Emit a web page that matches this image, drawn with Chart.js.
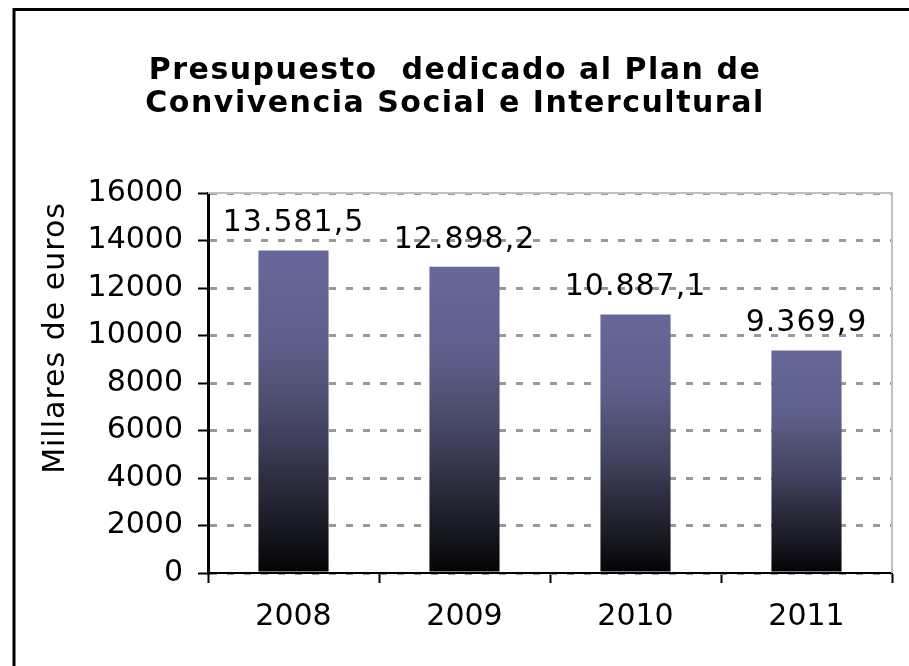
<!DOCTYPE html>
<html>
<head>
<meta charset="utf-8">
<script src="https://cdn.jsdelivr.net/npm/chart.js@4/dist/chart.umd.min.js"></script>
<style>
  html, body { margin: 0; padding: 0; background: #fff; }
  canvas { display: block; }
</style>
</head>
<body>
<canvas id="chart" width="909" height="666"></canvas>
<script>
// data
const years = ['2008', '2009', '2010', '2011'];
const budget = [13581.5, 12898.2, 10887.1, 9369.9];
const titleLines = ['Presupuesto  dedicado al Plan de', 'Convivencia Social e Intercultural'];
const yTitle = 'Millares de euros';

const FONT = "'DejaVu Sans', Verdana, sans-serif";

// 13581.5 -> "13.581,5"
function formatEs(v) {
    const parts = v.toFixed(1).split('.');
    const intPart = parts[0].replace(/\B(?=(\d{3})+(?!\d))/g, '.');
    return intPart + ',' + parts[1];
}

function barGradient(context) {
    const chart = context.chart;
    const yScale = chart.scales.y;
    if (!chart.chartArea || !yScale) return '#666699';
    const top = yScale.getPixelForValue(budget[context.dataIndex]);
    const bottom = yScale.getPixelForValue(0);
    const g = chart.ctx.createLinearGradient(0, top, 0, bottom);
    g.addColorStop(0, '#67679a');
    g.addColorStop(0.28, '#5f5f8c');
    g.addColorStop(0.42, '#525276');
    g.addColorStop(0.57, '#41415f');
    g.addColorStop(0.71, '#2d2d3e');
    g.addColorStop(0.86, '#191923');
    g.addColorStop(1, '#030305');
    return g;
}

const backgroundPlugin = {
    id: 'background',
    beforeDraw(chart) {
        const ctx = chart.ctx;
        ctx.save();
        ctx.fillStyle = '#fff';
        ctx.fillRect(0, 0, chart.width, chart.height);
        // outer frame (right/bottom are cut off in the original)
        ctx.strokeStyle = '#000';
        ctx.lineWidth = 3;
        ctx.strokeRect(14, 9.5, 1000, 1000);
        ctx.restore();
    }
};

const decorPlugin = {
    id: 'decor',
    afterDatasetsDraw(chart) {
        const ctx = chart.ctx;
        const area = chart.chartArea;
        ctx.save();
        // light grey plot frame on top and right
        ctx.strokeStyle = '#c0c0c0';
        ctx.lineWidth = 2;
        ctx.beginPath();
        ctx.moveTo(area.left, area.top);
        ctx.lineTo(area.right, area.top);
        ctx.lineTo(area.right, area.bottom);
        ctx.stroke();

        // value labels above the bars
        ctx.fillStyle = '#000';
        ctx.font = '30px ' + FONT;
        ctx.letterSpacing = '1px';
        ctx.textAlign = 'center';
        ctx.textBaseline = 'alphabetic';
        const meta = chart.getDatasetMeta(0);
        meta.data.forEach((bar, i) => {
            ctx.fillText(formatEs(budget[i]), bar.x, bar.y - 19);
        });

        // y axis title
        ctx.save();
        ctx.translate(64, 338);
        ctx.rotate(-Math.PI / 2);
        ctx.fillText(yTitle, 0, 0);
        ctx.restore();

        // chart title
        ctx.font = 'bold 30px ' + FONT;
        ctx.letterSpacing = '1.5px';
        ctx.fillText(titleLines[0], 455, 79);
        ctx.fillText(titleLines[1], 455, 112);
        ctx.restore();
    }
};

const ctx = document.getElementById('chart').getContext('2d');
new Chart(ctx, {
    type: 'bar',
    data: {
        labels: years,
        datasets: [{
            data: budget,
            backgroundColor: barGradient,
            borderWidth: 0,
            barPercentage: 0.41,
            categoryPercentage: 1.0
        }]
    },
    options: {
        responsive: false,
        animation: false,
        devicePixelRatio: 1,
        layout: { padding: { top: 193, left: 0, right: 17, bottom: 0 } },
        plugins: {
            legend: { display: false },
            title: { display: false },
            tooltip: { enabled: false }
        },
        scales: {
            x: {
                afterFit(scale) { scale.height = 93; },
                grid: {
                    offset: true,
                    drawOnChartArea: false,
                    drawTicks: true,
                    tickLength: 10,
                    tickColor: '#000',
                    tickWidth: 2
                },
                border: { display: true, color: '#000', width: 2 },
                ticks: {
                    color: '#000',
                    font: { family: FONT, size: 30 },
                    padding: 16
                }
            },
            y: {
                min: 0,
                max: 16000,
                afterFit(scale) { scale.width = 208; },
                grid: {
                    color: '#999',
                    lineWidth: 3,
                    drawTicks: true,
                    tickLength: 10,
                    tickColor: '#000',
                    tickWidth: 2
                },
                border: { display: true, color: '#000', width: 3, dash: [7, 10] },
                ticks: {
                    stepSize: 2000,
                    color: '#000',
                    font: { family: FONT, size: 30 },
                    padding: 15,
                    callback: (v) => String(v)
                }
            }
        }
    },
    plugins: [backgroundPlugin, decorPlugin]
});
</script>
</body>
</html>
